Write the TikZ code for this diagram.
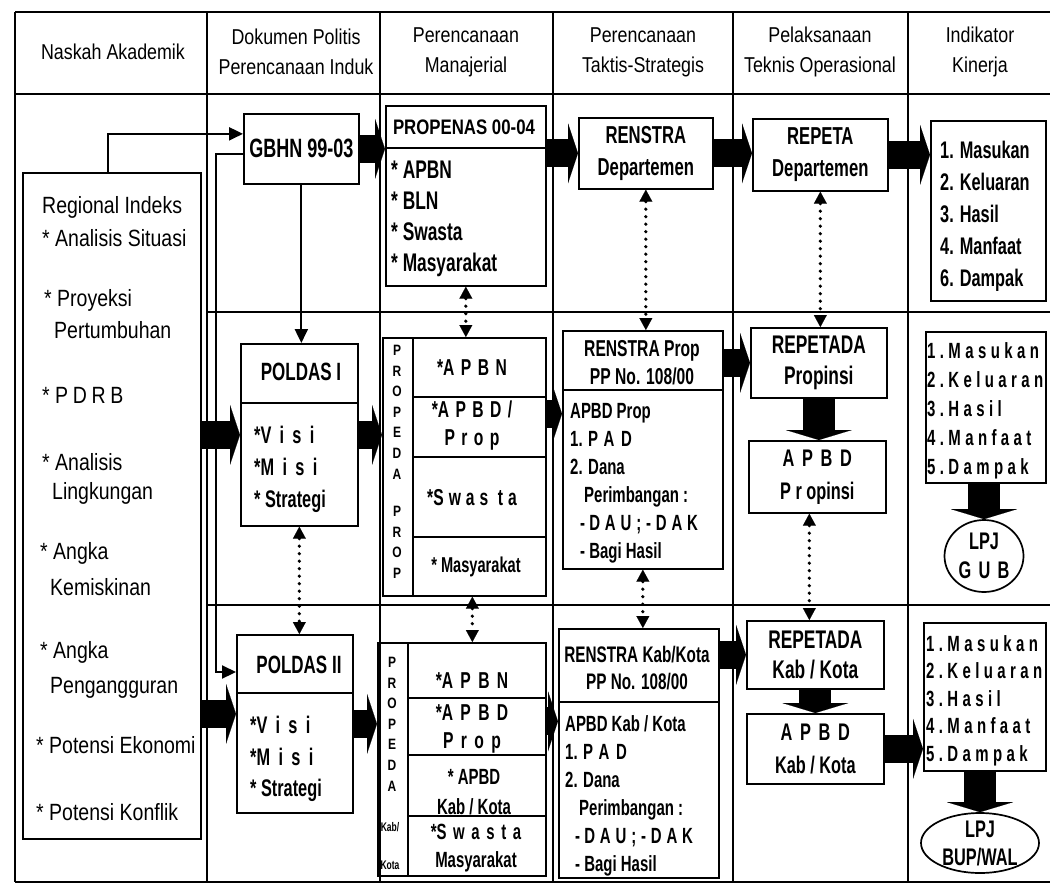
\documentclass[tikz,border=0pt]{standalone}
\usepackage{fontspec}
\setmainfont{Liberation Sans}[FakeStretch=0.83]
\newfontfamily\bdf{Liberation Sans}[FakeStretch=0.68]
\newfontfamily\bdw{Liberation Sans}[FakeStretch=0.8]
\usetikzlibrary{arrows.meta,shapes.geometric,calc}
\newcommand\ls[2][25]{{\addfontfeature{LetterSpace=#1}#2}}
\begin{document}
\begin{tikzpicture}[x=1pt,y=-1pt,
  tbl/.style={line width=1.3pt},
  dv/.style={line width=1.7pt},
  box/.style={draw, line width=1.7pt, inner sep=0pt, anchor=north west},
  oval/.style={draw, ellipse, line width=1.7pt, inner sep=0pt},
  hd/.style={font=\fontsize{21.5}{30}\selectfont, align=center, inner sep=0pt},
  bt/.style={font=\bdf\bfseries\fontsize{24.5}{32}\selectfont, align=center, inner sep=0pt},
  bl/.style={font=\bdf\bfseries\fontsize{22}{28}\selectfont, align=left, anchor=north west, inner sep=0pt},
  rt/.style={font=\fontsize{23.5}{28}\selectfont, anchor=west, inner sep=0pt},
  vl/.style={font=\bdw\bfseries\fontsize{15}{20.6}\selectfont, align=center, anchor=north, inner sep=0pt},
  blk/.style={line width=28pt, arrows={-Triangle[length=10pt,width=60pt,line width=0.1pt]}},
  blkd/.style={line width=32pt, arrows={-Triangle[length=10pt,width=66pt,line width=0.1pt]}},
  thinarr/.style={line width=2.2pt, arrows={-Triangle[length=14pt,width=13pt]}},
  dotarr/.style={line width=3.6pt, line cap=round, dash pattern=on 0pt off 7.5pt,
     arrows={Triangle[length=12pt,width=13pt,line width=0.1pt]-Triangle[length=12pt,width=13pt,line width=0.1pt]}}
]
\useasboundingbox (0,0) rectangle (1050,887);
\fill[white] (0,0) rectangle (1050,887);

% table grid
\draw[tbl] (15,12) -- (1050,12);
\draw[tbl] (15,94) -- (1050,94);
\draw[tbl] (15,882) -- (1050,882);
\draw[tbl] (15,12) -- (15,882);
\foreach \xx in {207,380,553,733,908} \draw[tbl] (\xx,12) -- (\xx,882);
\draw[tbl] (207,312) -- (1050,312);
\draw[tbl] (207,605) -- (1050,605);

% headers
\node[hd] (h1) at (113,52) {Naskah Akademik};
\node[hd] (h2) at (296,52) {Dokumen Politis\\Perencanaan Induk};
\node[hd] (h3) at (466,52) {Perencanaan\\Manajerial};
\node[hd] (h4) at (643,52) {Perencanaan\\Taktis-Strategis};
\node[hd] (h5) at (820,52) {Pelaksanaan\\Teknis Operasional};
\node[hd] (h6) at (980,52) {Indikator\\Kinerja};

% boxes
\node[box, minimum width=178pt, minimum height=666pt] (reg) at (22,172) {};
\node[box, minimum width=115pt, minimum height=70pt] (gbhn) at (243,113) {};
\node[box, minimum width=160pt, minimum height=180pt] (propenas) at (385,105) {};
\node[box, minimum width=134pt, minimum height=71pt] (renstraD) at (578,117) {};
\node[box, minimum width=135pt, minimum height=72pt] (repetaD) at (752,118) {};
\node[box, minimum width=115pt, minimum height=180pt] (ind1) at (930,120) {};
\node[box, minimum width=117pt, minimum height=182pt] (poldas1) at (240,343) {};
\node[box, minimum width=163pt, minimum height=258pt] (propedaP) at (382,337) {};
\node[box, minimum width=160pt, minimum height=238pt] (renstraP) at (562,330) {};
\node[box, minimum width=136pt, minimum height=70pt] (repetadaP) at (750,327) {};
\node[box, minimum width=137pt, minimum height=72pt] (apbdP) at (748,440) {};
\node[box, minimum width=120pt, minimum height=151pt] (ind2) at (925,331) {};
\node[oval, minimum width=79pt, minimum height=72pt] (lpjG) at (984,556) {};
\node[box, minimum width=116pt, minimum height=178pt] (poldas2) at (236,634) {};
\node[box, minimum width=168pt, minimum height=233pt] (propedaK) at (377,642) {};
\node[box, minimum width=160pt, minimum height=249pt] (renstraK) at (558,628) {};
\node[box, minimum width=137pt, minimum height=68pt] (repetadaK) at (746,620) {};
\node[box, minimum width=137pt, minimum height=70pt] (apbdK) at (746,713) {};
\node[box, minimum width=122pt, minimum height=148pt] (ind3) at (923,622) {};
\node[oval, minimum width=118pt, minimum height=60pt] (lpjB) at (980,843) {};

% inner dividers
\draw[dv] (propenas.north west) ++(0,43) -- ++(160,0);
\draw[dv] (poldas1.north west) ++(0,60) -- ++(117,0);
\draw[dv] (poldas2.north west) ++(0,59) -- ++(116,0);
\draw[dv] (renstraP.north west) ++(0,60) -- ++(160,0);
\draw[dv] (renstraK.north west) ++(0,74) -- ++(160,0);
\draw[dv] (propedaP.north west) ++(31,0) -- ++(0,258);
\draw[dv] (propedaP.north west) ++(31,60) -- ++(132,0);
\draw[dv] (propedaP.north west) ++(31,120) -- ++(132,0);
\draw[dv] (propedaP.north west) ++(31,200) -- ++(132,0);
\draw[dv] (propedaK.north west) ++(31,0) -- ++(0,233);
\draw[dv] (propedaK.north west) ++(31,56) -- ++(137,0);
\draw[dv] (propedaK.north west) ++(31,113) -- ++(137,0);
\draw[dv] (propedaK.north west) ++(31,174) -- ++(137,0);

% Regional Indeks texts
\node[rt] (r0) at (42,207) {Regional Indeks};
\node[rt] (r1) at (42,238) {* Analisis Situasi};
\node[rt] (r2) at (44,300) {* Proyeksi};
\node[rt] (r3) at (54,330) {Pertumbuhan};
\node[rt] (r4) at (42,395) {* \ls[20]{PDRB}};
\node[rt] (r5) at (42,462) {* Analisis};
\node[rt] (r6) at (52,493) {Lingkungan};
\node[rt] (r7) at (40,553) {* Angka};
\node[rt] (r8) at (50,587) {Kemiskinan};
\node[rt] (r9) at (40,652) {* Angka};
\node[rt] (r10) at (50,688) {Pengangguran};
\node[rt] (r11) at (36,745) {* Potensi Ekonomi};
\node[rt] (r12) at (36,812) {* Potensi Konflik};

% row 1 texts
\node[bt, font=\bdf\bfseries\fontsize{26.5}{32}\selectfont] (tg) at (gbhn) {GBHN 99-03};
\node[bt, font=\bdw\bfseries\fontsize{21}{30}\selectfont] (tpn) at (464,127) {PROPENAS 00-04};
\node[bl, font=\bdf\bfseries\fontsize{25.5}{31}\selectfont] (tpi) at (391,161) {* APBN\\* BLN\\* Swasta\\* Masyarakat};
\node[bt] (trd) at (renstraD) {RENSTRA\\Departemen};
\node[bt] (tpd) at (repetaD) {REPETA\\Departemen};
\node[bl, font=\bdf\bfseries\fontsize{24}{32}\selectfont] (ti1) at (940,141) {1. Masukan\\2. Keluaran\\3. Hasil\\4. Manfaat\\6. Dampak};

% row 2 texts
\node[bt, font=\bdf\bfseries\fontsize{25}{32}\selectfont] (tp1) at (301,372) {POLDAS I};
\node[bl, font=\bdf\bfseries\fontsize{24}{32}\selectfont] (tp1i) at (254,426) {*\ls[35]{Visi}\\*\ls[35]{Misi}\\* Strategi};
\node[vl] (tvp) at (397,345) {P\\R\\O\\P\\E\\D\\A\\[17pt]P\\R\\O\\P};
\node[bt, font=\bdf\bfseries\fontsize{23}{28}\selectfont] (tc1) at (472,368) {*\ls[28]{APBN}};
\node[bt, font=\bdf\bfseries\fontsize{23}{28}\selectfont] (tc2) at (472,426) {*\ls[28]{APBD/}\\\ls[28]{Prop}};
\node[bt, font=\bdf\bfseries\fontsize{23}{28}\selectfont] (tc3) at (472,498) {*\ls[22]{Swas ta}};
\node[bt, font=\bdf\bfseries\fontsize{21.5}{28}\selectfont] (tc4) at (476,567) {* Masyarakat};
\node[bt, font=\bdf\bfseries\fontsize{23}{28}\selectfont] (trp) at (642,363) {RENSTRA Prop\\PP No. 108/00};
\node[bl] (trpb) at (570,403) {APBD Prop\\1. \ls[30]{PAD}\\2. Dana\\\hspace*{14pt}Perimbangan :\\\hspace*{10pt}- \ls[22]{DAU;-DAK}\\\hspace*{10pt}- Bagi Hasil};
\node[bt, font=\bdf\bfseries\fontsize{25.5}{31}\selectfont] (trdp) at (repetadaP) {REPETADA\\Propinsi};
\node[bt, font=\bdf\bfseries\fontsize{24}{33}\selectfont] (tap) at (apbdP) {\ls[32]{APBD}\\P r opinsi};
\node[bl, font=\bdf\bfseries\fontsize{22}{29}\selectfont] (ti2) at (927,342) {\ls[20]{1.Masukan}\\\ls[20]{2.Keluaran}\\\ls[20]{3.Hasil}\\\ls[20]{4.Manfaat}\\\ls[20]{5.Dampak}};
\node[bt, font=\bdf\bfseries\fontsize{24}{29}\selectfont] (tlg) at (lpjG) {LPJ\\\ls[30]{GUB}};

% row 3 texts
\node[bt, font=\bdf\bfseries\fontsize{25}{32}\selectfont] (tp2) at (299,665) {POLDAS II};
\node[bl, font=\bdf\bfseries\fontsize{24}{31.5}\selectfont] (tp2i) at (250,716) {*\ls[35]{Visi}\\*\ls[35]{Misi}\\* Strategi};
\node[vl] (tvk) at (392,657) {P\\R\\O\\P\\E\\D\\A};
\node[bt, font=\bdf\bfseries\fontsize{12.5}{12}\selectfont] (tkab) at (390,827) {Kab/};
\node[bt, font=\bdf\bfseries\fontsize{12.5}{12}\selectfont] (tkota) at (390,865) {Kota};
\node[bt, font=\bdf\bfseries\fontsize{23}{28}\selectfont] (tk1) at (472,681) {*\ls[32]{APBN}};
\node[bt, font=\bdf\bfseries\fontsize{23}{28}\selectfont] (tk2) at (472,729) {*\ls[32]{APBD}\\\ls[32]{Prop}};
\node[bt, font=\bdf\bfseries\fontsize{22}{30}\selectfont] (tk3) at (474,792) {* APBD\\Kab / Kota};
\node[bt, font=\bdf\bfseries\fontsize{22}{28}\selectfont] (tk4) at (476,848) {*\ls[30]{Swasta}\\Masyarakat};
\node[bt, font=\bdf\bfseries\fontsize{22.5}{27}\selectfont] (trk) at (637,668) {RENSTRA Kab/Kota\\PP No. 108/00};
\node[bl] (trkb) at (565,715) {APBD Kab / Kota\\1. \ls[30]{PAD}\\2. Dana\\\hspace*{14pt}Perimbangan :\\\hspace*{10pt}- \ls[22]{DAU;-DAK}\\\hspace*{10pt}- Bagi Hasil};
\node[bt, font=\bdf\bfseries\fontsize{25.5}{30}\selectfont] (trdk) at (repetadaK) {REPETADA\\Kab / Kota};
\node[bt, font=\bdf\bfseries\fontsize{24}{33}\selectfont] (tak) at (apbdK) {\ls[32]{APBD}\\Kab / Kota};
\node[bl, font=\bdf\bfseries\fontsize{22}{27.5}\selectfont] (ti3) at (926,635) {\ls[20]{1.Masukan}\\\ls[20]{2.Keluaran}\\\ls[20]{3.Hasil}\\\ls[20]{4.Manfaat}\\\ls[20]{5.Dampak}};
\node[bt, font=\bdf\bfseries\fontsize{24}{28}\selectfont] (tlb) at (lpjB) {LPJ\\BUP/WAL};

% helper coordinates
\coordinate (p2in) at ([yshift=10pt]poldas2.west);
\coordinate (rpin) at ([yshift=36pt]renstraP.west);
\coordinate (rkin) at ([yshift=32pt]renstraK.west);

% thin solid arrows
\draw[thinarr] ([xshift=-4pt]reg.north) |- ([yshift=15pt]gbhn.west);
\draw[thinarr] ([yshift=-5pt]gbhn.west) -- ++(-27,0) |- ([yshift=-38pt]poldas2.north west);
\draw[thinarr] (gbhn.south) -- (gbhn.south |- poldas1.north);

% block arrows
\draw[blk] (gbhn.east) -- (gbhn.east -| propenas.west);
\draw[blk] (propenas.east |- renstraD.west) -- (renstraD.west);
\draw[blk] (renstraD.east) -- (renstraD.east -| repetaD.west);
\draw[blk] (repetaD.east) -- (repetaD.east -| ind1.west);
\draw[blk] (reg.east |- poldas1.west) -- (poldas1.west);
\draw[blk] (poldas1.east) -- (poldas1.east -| propedaP.west);
\draw[blk] (propedaP.east |- rpin) -- (rpin);
\draw[blk] (renstraP.east |- repetadaP.west) -- (repetadaP.west);
\draw[blkd] (repetadaP.south) -- (repetadaP.south |- apbdP.north);
\draw[blkd] (ind2.south -| lpjG.north) -- (lpjG.north);
\draw[blk] (reg.east |- p2in) -- (p2in);
\draw[blk] (poldas2.east) -- (poldas2.east -| propedaK.west);
\draw[blk] (propedaK.east |- rkin) -- (rkin);
\draw[blk] (renstraK.east |- repetadaK.west) -- (repetadaK.west);
\draw[blkd] (repetadaK.south) -- (repetadaK.south |- apbdK.north);
\draw[blk] (apbdK.east) -- (apbdK.east -| ind3.west);
\draw[blkd] (ind3.south -| lpjB.north) -- (lpjB.north);

% dotted double arrows
\draw[dotarr] (propenas.south) -- (propenas.south |- propedaP.north);
\draw[dotarr] (renstraD.south) -- (renstraD.south |- renstraP.north);
\draw[dotarr] (repetaD.south) -- (repetaD.south |- repetadaP.north);
\draw[dotarr] (poldas1.south) -- (poldas1.south |- poldas2.north);
\draw[dotarr] ([xshift=8pt]propedaP.south) -- ([xshift=8pt]propedaP.south |- propedaK.north);
\draw[dotarr] (renstraP.south) -- (renstraP.south |- renstraK.north);
\draw[dotarr] ([xshift=-8pt]apbdP.south) -- ([xshift=-8pt]apbdP.south |- repetadaK.north);
\end{tikzpicture}
\end{document}
